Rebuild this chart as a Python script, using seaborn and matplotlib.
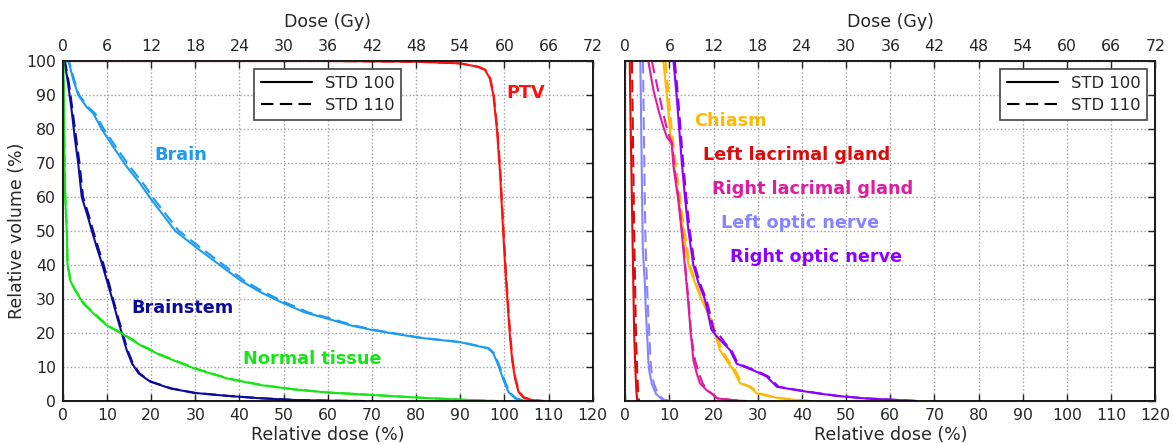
import numpy as np
import seaborn as sns
import matplotlib.pyplot as plt
from matplotlib.lines import Line2D

# ---- left panel: target and large structures (relative dose %, relative volume %)
ptv_vol = [100, 100, 99.8, 99.3, 98.3, 97.4, 94.9, 90, 80, 67.5, 52.7, 39, 27.3, 18.4, 11.6, 6.7, 2.7, 1, 0.3, 0]
ptv_dose_100 = [0, 60, 80, 90, 94, 95.6, 96.7, 97.5, 98.3, 99.0, 99.6, 100.2, 100.8, 101.3, 101.8, 102.4, 103.2, 104.3, 106.2, 108.5]
ptv_dose_110 = [0, 60, 80, 90, 94.1, 95.7, 96.8, 97.6, 98.4, 99.1, 99.7, 100.3, 100.9, 101.4, 101.9, 102.5, 103.3, 104.5, 106.5, 109]

brain_vol = [100, 100, 94.4, 90, 86.5, 84.6, 80, 74.8, 68.9, 64, 59, 50, 45.7, 41.3, 35.4, 32, 29.1, 26.1,
             24.2, 22.2, 20.9, 18.6, 17.3, 15.5, 14, 10.6, 6.2, 2.7, 0.8, 0.2, 0]
brain_dose_100 = [0, 1.3, 2.4, 3.5, 5.4, 6.9, 8.8, 11.4, 14.5, 17.5, 20.2, 25.5, 29.7, 34.2, 40.3, 44.8, 49.4, 54.7,
                  60, 65.3, 70, 80.8, 90, 96.3, 97.5, 98.6, 99.8, 100.9, 102.4, 104, 105.5]
brain_dose_110 = [0, 1.4, 2.6, 3.7, 5.7, 7.3, 9.3, 12.0, 15.2, 18.2, 20.9, 26.3, 30.6, 35.1, 41.1, 45.6, 50.2, 55.5,
                  60.8, 66.0, 70.6, 81.2, 90.3, 96.5, 97.7, 98.8, 100.0, 101.1, 102.6, 104.2, 105.7]

brainstem_vol = [100, 100, 93.4, 85.6, 77.7, 69.9, 60, 55, 50, 45.2, 40.3, 35.4, 30.5, 24.7, 19.8, 14.9, 11, 8.1,
                 5.7, 3.7, 2.4, 1.5, 0.8, 0.3, 0.1, 0]
brainstem_dose_100 = [0, 0.4, 1.2, 2.0, 2.7, 3.5, 4.3, 5.5, 6.6, 7.7, 8.9, 10, 11.1, 12.3, 13.4, 14.5, 15.7, 17.2,
                      19.8, 24.4, 29.7, 37.3, 44.8, 52.4, 60, 68]
brainstem_dose_110 = [0, 0.5, 1.4, 2.2, 3.0, 3.8, 4.6, 5.8, 6.9, 8.0, 9.2, 10.3, 11.3, 12.5, 13.6, 14.7, 15.9, 17.4,
                      20.0, 24.6, 30.0, 37.6, 45.2, 52.8, 60.5, 68.5]

normal_vol = [100, 90, 70, 60, 50, 40.3, 35.4, 32.5, 28.6, 25.7, 22.2, 19.8, 16.4, 13.5, 9.6, 6.6, 4.7, 3.4,
              2.5, 1.95, 1.4, 0.9, 0.4, 0]
normal_dose_100 = [0.1, 0.25, 0.4, 0.55, 0.9, 1.06, 1.7, 2.8, 4.7, 7, 10, 13.4, 17.6, 22.1, 29.7, 37.3, 44.8, 52.4,
                   60, 67.6, 75, 82, 90, 98]
normal_dose_110 = [0.1, 0.25, 0.4, 0.6, 0.95, 1.1, 1.8, 2.9, 4.9, 7.2, 10.2, 13.6, 17.9, 22.4, 30.0, 37.6, 45.1, 52.7,
                   60.3, 67.9, 75.3, 82.3, 90.3, 98.5]

# ---- right panel: organs at risk
llg_vol = [100, 90, 70, 50, 35, 20, 10, 3, 0]
llg_dose_100 = [1.0, 1.1, 1.35, 1.6, 1.8, 2.0, 2.25, 2.5, 2.7]
llg_dose_110 = [1.5, 1.6, 1.8, 2.0, 2.2, 2.4, 2.65, 2.9, 3.1]

lon_vol = [100, 90, 75, 60, 45, 35, 25, 18, 12, 9, 5, 2, 0.5, 0]
lon_dose_100 = [3.4, 3.5, 3.65, 3.8, 3.95, 4.4, 4.7, 5.0, 5.2, 5.4, 6.0, 7.0, 8.3, 9.7]
lon_dose_110 = [4.0, 4.1, 4.25, 4.4, 4.6, 4.9, 5.2, 5.5, 5.7, 5.9, 6.5, 7.4, 8.6, 10.0]

chiasm_vol = [100, 90, 80, 70, 60, 50, 40, 35, 30, 25, 20, 15, 12, 9, 5.2, 4.2, 2.3, 1.3, 0.8, 0.3, 0]
chiasm_dose_100 = [8.6, 9.4, 10.1, 11.0, 12.0, 13.1, 14.3, 15.7, 17.2, 19.0, 20.3, 21.4, 22.9, 24.5, 26.0, 28.2,
                   29.7, 32.8, 35.0, 38.8, 41.8]
chiasm_dose_110 = [9.1, 9.8, 10.5, 11.4, 12.4, 13.4, 14.6, 15.9, 17.4, 19.2, 20.6, 21.8, 23.3, 24.9, 26.4, 28.4,
                   30.3, 33.3, 35.6, 39.5, 42.5]

rlg_vol = [100, 91.5, 85.6, 80.7, 77.7, 75.8, 69, 59, 49.3, 39.5, 29.7, 20, 15, 12, 8, 5.2, 3.2, 1.8, 0.8, 0.3, 0]
rlg_dose_100 = [5.2, 6.35, 7.5, 8.6, 9.4, 10.5, 10.9, 12.0, 12.8, 13.5, 14.2, 14.8, 15.2, 15.4, 16.2, 16.9, 18.4,
                19.9, 20.7, 24.0, 27.0]
rlg_dose_110 = [6.0, 7.4, 8.4, 9.3, 10.0, 10.6, 11.1, 12.1, 12.9, 13.6, 14.3, 14.9, 15.4, 15.8, 16.7, 17.5, 18.6,
                20.0, 20.8, 24.3, 27.3]

ron_vol = [100, 90, 80, 70, 60, 50, 40, 35, 30, 27.7, 21, 19, 17, 15, 11, 10, 8.6, 7.2, 4.2, 3.2, 2.3, 1.5, 0.8, 0.3, 0]
ron_dose_100 = [10.9, 11.6, 12.2, 12.8, 13.5, 14.3, 15.4, 16.5, 18.0, 18.4, 19.5, 20.7, 22.2, 23.7, 25.2, 27.1,
                29.7, 32.0, 34.3, 38.8, 43.3, 47.9, 53.9, 61.4, 66.0]
ron_dose_110 = [11.2, 11.9, 12.5, 13.1, 13.8, 14.6, 15.7, 16.8, 18.3, 18.8, 20.0, 21.5, 22.6, 24.0, 25.5, 27.5,
                30.2, 32.4, 34.7, 39.2, 43.7, 48.3, 54.3, 61.8, 66.3]

# name, color, volume, dose STD 100, dose STD 110, label position
left_structs = [
    ("PTV", "#ff1010", ptv_vol, ptv_dose_100, ptv_dose_110, (100.4, 90.5)),
    ("Brain", "#1e9bf0", brain_vol, brain_dose_100, brain_dose_110, (20.7, 72.4)),
    ("Brainstem", "#0c0c9c", brainstem_vol, brainstem_dose_100, brainstem_dose_110, (15.6, 27.3)),
    ("Normal tissue", "#14e614", normal_vol, normal_dose_100, normal_dose_110, (40.7, 12.3)),
]
right_structs = [
    ("Chiasm", "#ffb800", chiasm_vol, chiasm_dose_100, chiasm_dose_110, (15.5, 82.4)),
    ("Left lacrimal gland", "#dd0a0a", llg_vol, llg_dose_100, llg_dose_110, (17.5, 72.3)),
    ("Right lacrimal gland", "#df1ca0", rlg_vol, rlg_dose_100, rlg_dose_110, (19.6, 62.5)),
    ("Left optic nerve", "#8585ff", lon_vol, lon_dose_100, lon_dose_110, (21.6, 52.3)),
    ("Right optic nerve", "#8c00ff", ron_vol, ron_dose_100, ron_dose_110, (23.6, 42.3)),
]

sns.set_style("white")
plt.rcParams['font.family'] = ['DejaVu Sans']

fig = plt.figure(figsize=(11.73, 4.44), dpi=100)
ax_l = fig.add_axes([0.0535, 0.0968, 0.4518, 0.7658])
ax_r = fig.add_axes([0.5331, 0.0968, 0.4518, 0.7658])

dash = (0, (6, 3))

def draw_panel(ax, structs, show_ylabel, legend_loc):
    for name, col, vol, d100, d110, pos in structs:
        sns.lineplot(x=d100, y=vol, ax=ax, color=col, lw=1.5, sort=False, estimator=None)
        sns.lineplot(x=d110, y=vol, ax=ax, color=col, lw=1.5, sort=False, estimator=None, linestyle=dash)
        ax.text(pos[0], pos[1], name, color=col, fontsize=12.7, fontweight='bold', va='center', ha='left')
    ax.set_xlim(0, 120)
    ax.set_ylim(0, 100)
    ax.set_xticks(np.arange(0, 121, 10))
    ax.set_yticks(np.arange(0, 101, 10))
    ax.grid(True, color='#a0a0a0', linestyle=':', linewidth=1)
    ax.tick_params(direction='in', length=5, width=1, labelsize=11.3, top=False, right=True, pad=5)
    ax.set_xlabel("Relative dose (%)", fontsize=12.5, labelpad=2)
    if show_ylabel:
        ax.set_ylabel("Relative volume (%)", fontsize=12.5, labelpad=0)
    else:
        ax.set_ylabel("")
        ax.tick_params(labelleft=False)
    for s in ax.spines.values():
        s.set_color('black')
        s.set_linewidth(1.3)
    handles = [Line2D([], [], color='black', lw=1.5),
               Line2D([], [], color='black', lw=1.5, linestyle=dash)]
    leg = ax.legend(handles, ["STD 100", "STD 110"], loc=legend_loc, fontsize=11.8, handlelength=3.1,
                    fancybox=False, framealpha=1, edgecolor='#444444', borderaxespad=0.5,
                    labelspacing=0.45)
    leg.get_frame().set_linewidth(1.2)

    top = ax.twiny()
    top.set_xlim(0, 72)
    top.set_xticks(np.arange(0, 73, 6))
    top.tick_params(direction='in', length=5, width=1, labelsize=11.3, pad=5)
    top.set_xlabel("Dose (Gy)", fontsize=12.5, labelpad=9)

draw_panel(ax_l, left_structs, True, 'upper center')
draw_panel(ax_r, right_structs, False, 'upper right')

fig.savefig("out.png", dpi=100)
